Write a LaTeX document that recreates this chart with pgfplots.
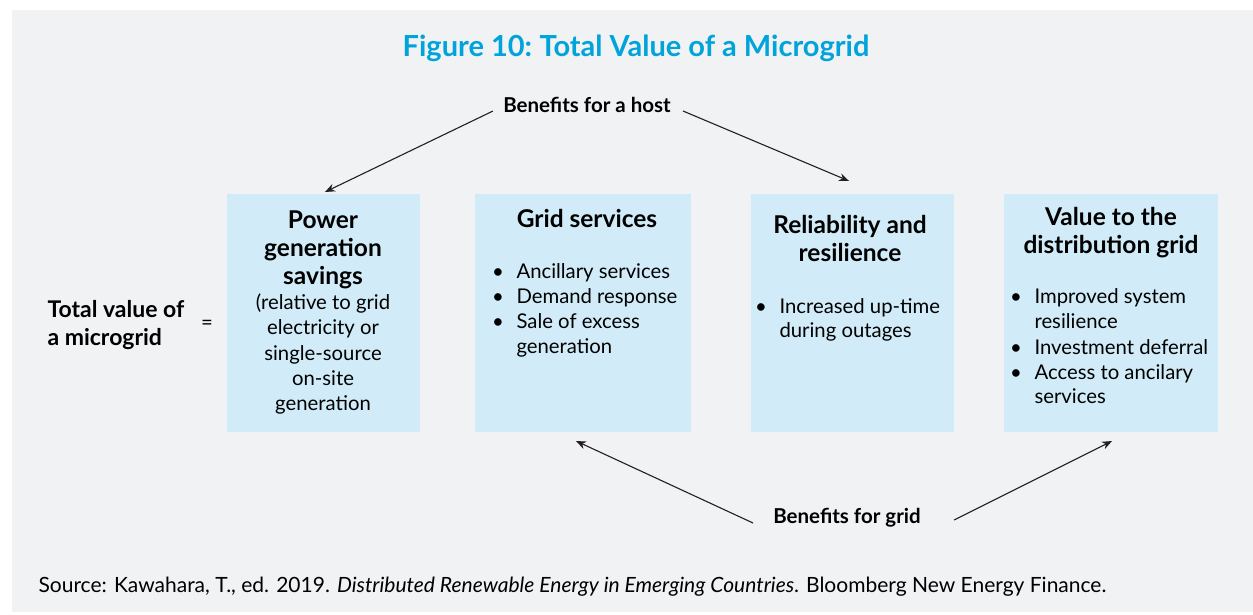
\documentclass[border=0pt]{standalone}
\usepackage{pgfplots}
\pgfplotsset{compat=1.18}
\usepackage{fontspec}
\setmainfont{Lato}
\usetikzlibrary{arrows.meta}
\definecolor{bg}{HTML}{F1F2F4}
\definecolor{boxc}{HTML}{D1ECF8}
\definecolor{titlec}{HTML}{00A3DA}
\definecolor{txt}{HTML}{231F20}
\newcommand\body{\fontsize{20.3bp}{24bp}\selectfont}
\newcommand\src{\fontsize{21bp}{24bp}\selectfont}
\newcommand\head{\fontsize{24.5bp}{28bp}\selectfont\bfseries}
\newcommand\lab{\fontsize{20.5bp}{24bp}\selectfont\bfseries}
\newcommand\tot{\fontsize{23bp}{27bp}\selectfont\bfseries}
\newcommand\ttl{\fontsize{29bp}{34bp}\selectfont\bfseries}
\begin{document}
\begin{tikzpicture}
\begin{axis}[hide axis, scale only axis, width=1253bp, height=615bp,
  xmin=0, xmax=1253, ymin=0, ymax=615, y dir=reverse, clip=false,
  every node/.style={inner sep=0pt, outer sep=0pt, text=txt}]
% canvas and background
\addplot[fill=white, draw=none] coordinates {(0,0) (1253,0) (1253,615) (0,615)} -- cycle;
\addplot[fill=bg, draw=none] coordinates {(12,10) (1253,10) (1253,612) (12,612)} -- cycle;
% boxes
\addplot[fill=boxc, draw=none] coordinates {(227,194) (420,194) (420,432) (227,432)} -- cycle;
\addplot[fill=boxc, draw=none] coordinates {(475,194) (691,194) (691,432) (475,432)} -- cycle;
\addplot[fill=boxc, draw=none] coordinates {(751,194) (954,194) (954,432) (751,432)} -- cycle;
\addplot[fill=boxc, draw=none] coordinates {(1004,194) (1218,194) (1218,432) (1004,432)} -- cycle;
% arrows
\addplot[txt, line width=1.1bp, -{Stealth[length=10bp,width=8bp]}] coordinates {(493,111) (325,192)};
\addplot[txt, line width=1.1bp, -{Stealth[length=10bp,width=8bp]}] coordinates {(683,111) (849,181)};
\addplot[txt, line width=1.1bp, -{Stealth[length=10bp,width=8bp]}] coordinates {(753,523) (576,441)};
\addplot[txt, line width=1.1bp, -{Stealth[length=10bp,width=8bp]}] coordinates {(954,520) (1112,441)};
% title
\node[anchor=base, font=\ttl, text=titlec] at (axis cs:636,57) {Figure 10:\kern-2bp{} Total Value of a Microgrid};
\node[anchor=base, font=\lab] at (axis cs:587,112) {Benefits for a host};
\node[anchor=base, font=\lab] at (axis cs:847,523) {Benefits for grid};
% left label
\node[anchor=base west, font=\tot] at (axis cs:44,317) {Total value of};
\node[anchor=base west, font=\tot] at (axis cs:44,345) {a microgrid};
\node[anchor=base, font=\body] at (axis cs:207,329) {=};
% box 1
\node[anchor=base, font=\head] at (axis cs:323,228) {Power};
\node[anchor=base, font=\head] at (axis cs:323,256) {generation};
\node[anchor=base, font=\head] at (axis cs:323,284) {savings};
\node[anchor=base, font=\body] at (axis cs:323,309) {(relative to grid};
\node[anchor=base, font=\body] at (axis cs:323,334) {electricity or};
\node[anchor=base, font=\body] at (axis cs:323,360) {single-source};
\node[anchor=base, font=\body] at (axis cs:323,385) {on-site};
\node[anchor=base, font=\body] at (axis cs:323,410) {generation};
% box 2
\node[anchor=base, font=\head] at (axis cs:587,227) {Grid services};
\node[anchor=base, font=\body] at (axis cs:498,278) {\textbullet};
\node[anchor=base, font=\body] at (axis cs:498,303) {\textbullet};
\node[anchor=base, font=\body] at (axis cs:498,328) {\textbullet};
\node[anchor=base west, font=\body] at (axis cs:513,278) {Ancillary services};
\node[anchor=base west, font=\body] at (axis cs:513,303) {Demand response};
\node[anchor=base west, font=\body] at (axis cs:513,328) {Sale of excess};
\node[anchor=base west, font=\body] at (axis cs:513,353) {generation};
% box 3
\node[anchor=base, font=\head] at (axis cs:850,233) {Reliability and};
\node[anchor=base, font=\head] at (axis cs:850,261) {resilience};
\node[anchor=base, font=\body] at (axis cs:761,313) {\textbullet};
\node[anchor=base west, font=\body] at (axis cs:776,313) {Increased up-time};
\node[anchor=base west, font=\body] at (axis cs:776,337) {during outages};
% box 4
\node[anchor=base, font=\head] at (axis cs:1111,225) {Value to the};
\node[anchor=base, font=\head] at (axis cs:1111,253) {distribution grid};
\node[anchor=base, font=\body] at (axis cs:1016,303) {\textbullet};
\node[anchor=base, font=\body] at (axis cs:1016,354) {\textbullet};
\node[anchor=base, font=\body] at (axis cs:1016,379) {\textbullet};
\node[anchor=base west, font=\body] at (axis cs:1031,303) {Improved system};
\node[anchor=base west, font=\body] at (axis cs:1031,328) {resilience};
\node[anchor=base west, font=\body] at (axis cs:1031,354) {Investment deferral};
\node[anchor=base west, font=\body] at (axis cs:1031,379) {Access to ancilary};
\node[anchor=base west, font=\body] at (axis cs:1031,403) {services};
% source
\node[anchor=base west, font=\src] at (axis cs:35,592) {Source: Kawahara, T., ed. 2019. \textit{Distributed Renewable Energy in Emerging Countries}. Bloomberg New Energy Finance.};
\end{axis}
\end{tikzpicture}
\end{document}
